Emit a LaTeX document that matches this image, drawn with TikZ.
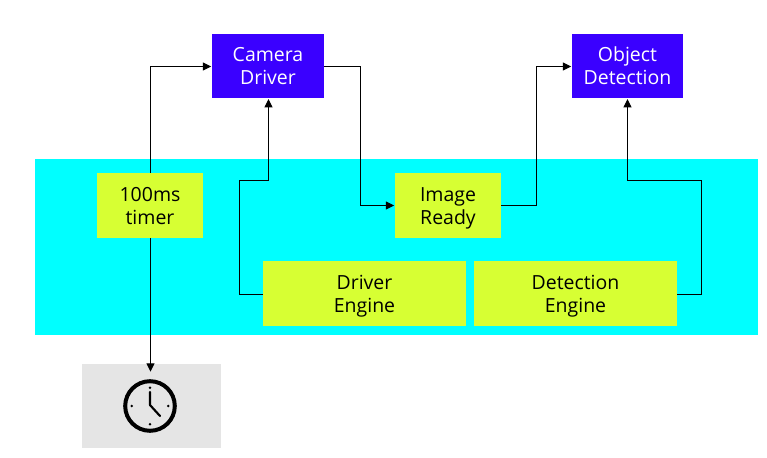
\documentclass[tikz,border=0pt]{standalone}
\usepackage{fontspec}
\setmainfont{Open Sans}
\usetikzlibrary{arrows.meta,calc}
\definecolor{cyanbg}{HTML}{00FFFF}
\definecolor{lime}{HTML}{D7FF33}
\definecolor{indigo}{HTML}{3A00FF}
\definecolor{graybg}{HTML}{E5E5E5}
\tikzset{
  x=0.75pt,y=-0.75pt,
  box/.style={inner sep=0pt,outer sep=0pt,align=center,minimum height=48.4pt},
  label/.style={inner sep=0pt,outer sep=0pt,align=center,font=\fontsize{14.6}{17.2}\selectfont},
  limebox/.style={box,fill=lime},
  bluebox/.style={box,fill=indigo},
  link/.style={draw=black,line width=0.75pt,-{Triangle[length=6.2pt,width=6pt]},shorten >=0.6pt},
  clockline/.style={draw=black,line cap=round,line join=round}
}
\begin{document}
\begin{tikzpicture}
\useasboundingbox (0,0) rectangle (767,457);
\fill[white] (0,0) rectangle (767,457);
\fill[cyanbg] (35,159) rectangle (758,335);
\node[fill=graybg,inner sep=0pt,outer sep=0pt,minimum width=104.25pt,minimum height=63pt] (icon) at (151.5,406) {};
\coordinate (iconin) at (150.5,372.5);

\node[bluebox,minimum width=84pt] (cam) at (268,66) {};
\node[bluebox,minimum width=83.25pt] (obj) at (627.5,66) {};
\node[limebox,minimum width=79.5pt] (timer) at (150,205.5) {};
\node[limebox,minimum width=79.5pt] (img) at (448,205.5) {};
\node[limebox,minimum width=152.25pt] (drv) at (364.5,293.5) {};
\node[limebox,minimum width=152.25pt] (det) at (575.5,293.5) {};

\node[label,text=white] (camt) at (268,66) {Camera\\Driver};
\node[label,text=white] (objt) at (627.5,66) {Object\\Detection};
\node[label] (timert) at (150,206) {100ms\\timer};
\node[label] (imgt) at (448,208) {Image\\Ready};
\node[label] (drvt) at (364.5,296) {Driver\\Engine};
\node[label] (dett) at (575.5,296) {Detection\\Engine};

\coordinate (a1) at (239.5,180.5);
\coordinate (a2) at (701.5,180.5);
\coordinate (a3) at (360.5,100);
\coordinate (a4) at (536.5,100);

\draw[link] ($(timer.north)+(0.5,0)$) |- ($(cam.west)+(0,0.5)$);
\draw[link] ($(timer.south)+(0.5,0)$) -- (iconin);
\draw[link] ($(drv.west)+(0,1)$) -| (a1) -| ($(cam.south)+(0.5,0)$);
\draw[link] ($(cam.east)+(0,0.5)$) -| (a3) |- (img.west);
\draw[link] (img.east) -| (a4) |- ($(obj.west)+(0,0.5)$);
\draw[link] ($(det.east)+(0,1)$) -| (a2) -| (obj.south);

% clock icon
\coordinate (c) at (150,406);
\draw[black,line width=3pt] (c) circle[radius=18.6pt];
\draw[clockline,line width=1.6pt] (150,392) -- (150,405) -- (160,416);
\foreach \px/\py in {150/387.7,150/424.3,131.7/406,168.3/406}
  \fill[black] (\px,\py) circle[radius=1pt];
\end{tikzpicture}
\end{document}
